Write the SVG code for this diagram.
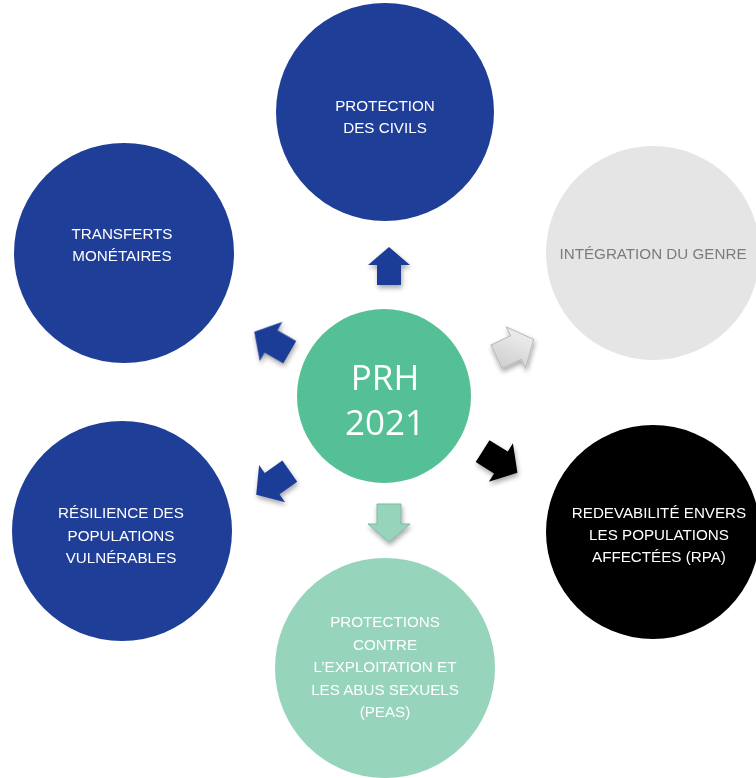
<svg xmlns="http://www.w3.org/2000/svg" width="756" height="778" viewBox="0 0 756 778">
  <defs>
    <style>
      .lbl { font-family: "Liberation Sans", Arial, sans-serif; font-size: 15.2px; fill: #ffffff; text-anchor: middle; }
      .big { font-family: "Open Sans", "Liberation Sans", sans-serif; font-size: 35px; fill: #ffffff; text-anchor: middle; }
      .blue { fill: #1f3e97; }
    </style>
    <filter id="soft" x="-50%" y="-50%" width="200%" height="200%">
      <feGaussianBlur in="SourceAlpha" stdDeviation="2.5"/>
      <feOffset dx="1" dy="3" result="b"/>
      <feComponentTransfer><feFuncA type="linear" slope="0.35"/></feComponentTransfer>
      <feMerge><feMergeNode/><feMergeNode in="SourceGraphic"/></feMerge>
    </filter>
    <linearGradient id="greyArrow" x1="0" y1="0" x2="1" y2="1">
      <stop offset="0" stop-color="#f7f7f7"/>
      <stop offset="1" stop-color="#c9c9c9"/>
    </linearGradient>
    <!-- block arrow pointing up, centred on the origin -->
    <path id="arrow" d="M0,-19 L21,-1 L12,-1 L12,19 L-12,19 L-12,-1 L-21,-1 Z"/>
  </defs>

  <rect width="756" height="778" fill="#ffffff"/>

  <!-- connectors: arrows from the centre toward each theme -->
  <g id="connectors" filter="url(#soft)">
    <use href="#arrow" transform="translate(389,266)" fill="#1f3e97"/>
    <use href="#arrow" transform="translate(515,348) rotate(65) scale(1.08)" fill="url(#greyArrow)" stroke="#bdbdbd" stroke-width="1"/>
    <use href="#arrow" transform="translate(500,462) rotate(122) scale(1.08)" fill="#000000"/>
    <use href="#arrow" transform="translate(389,523) rotate(180)" fill="#96d4bc" stroke="#7fb8a2" stroke-width="1"/>
    <use href="#arrow" transform="translate(273,483) rotate(-125) scale(1.08)" fill="#1f3e97"/>
    <use href="#arrow" transform="translate(272,342) rotate(-60) scale(1.08)" fill="#1f3e97"/>
  </g>

  <g id="center">
    <circle cx="384" cy="396" r="87" fill="#55bf95"/>
    <text class="big" x="385" y="390">PRH</text>
    <text class="big" x="385" y="435">2021</text>
  </g>

  <g id="protection-civils">
    <circle class="blue" cx="385" cy="112" r="109"/>
    <text class="lbl" x="385" y="111">PROTECTION</text>
    <text class="lbl" x="385" y="133">DES CIVILS</text>
  </g>

  <g id="integration-genre">
    <circle cx="653" cy="253" r="107" fill="#e5e5e6"/>
    <text class="lbl" x="653" y="259" style="fill:#7b7b7b">INTÉGRATION DU GENRE</text>
  </g>

  <g id="redevabilite">
    <circle cx="653" cy="532" r="107" fill="#000000"/>
    <text class="lbl" x="659" y="518">REDEVABILITÉ ENVERS</text>
    <text class="lbl" x="659" y="540">LES POPULATIONS</text>
    <text class="lbl" x="659" y="562">AFFECTÉES (RPA)</text>
  </g>

  <g id="peas">
    <circle cx="385" cy="668" r="110" fill="#96d4bc"/>
    <text class="lbl" x="385" y="627">PROTECTIONS</text>
    <text class="lbl" x="385" y="650">CONTRE</text>
    <text class="lbl" x="385" y="672">L’EXPLOITATION ET</text>
    <text class="lbl" x="385" y="695">LES ABUS SEXUELS</text>
    <text class="lbl" x="385" y="717">(PEAS)</text>
  </g>

  <g id="resilience">
    <circle class="blue" cx="122" cy="531" r="110"/>
    <text class="lbl" x="121" y="518">RÉSILIENCE DES</text>
    <text class="lbl" x="121" y="541">POPULATIONS</text>
    <text class="lbl" x="121" y="563">VULNÉRABLES</text>
  </g>

  <g id="transferts">
    <circle class="blue" cx="124" cy="253" r="110"/>
    <text class="lbl" x="122" y="239">TRANSFERTS</text>
    <text class="lbl" x="122" y="261">MONÉTAIRES</text>
  </g>
</svg>
